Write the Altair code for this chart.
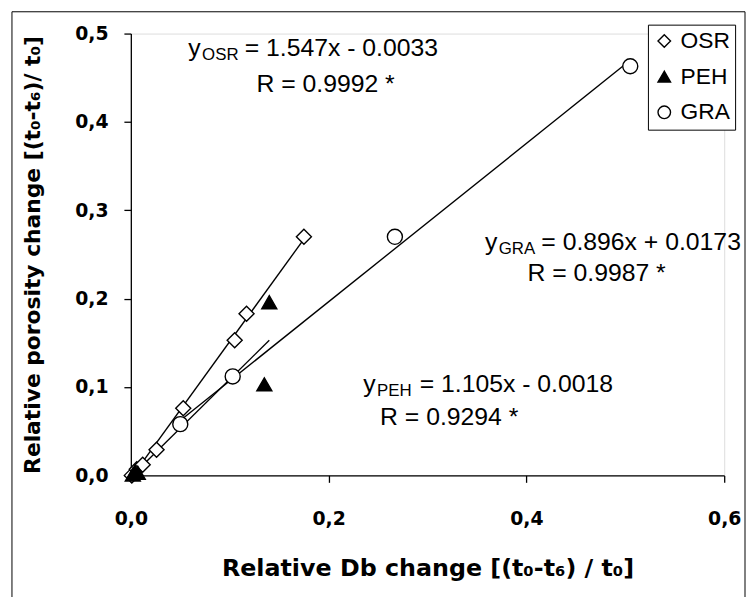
import altair as alt
import pandas as pd

# ---- data ----
series_names = ["OSR", "PEH", "GRA"]

osr_x = [0.001, 0.006, 0.012, 0.026, 0.053, 0.105, 0.117, 0.175]
osr_y = [0.000, 0.007, 0.012, 0.029, 0.076, 0.153, 0.183, 0.270]

peh_x = [0.002, 0.004, 0.007, 0.135, 0.140]
peh_y = [0.001, 0.004, 0.003, 0.103, 0.196]

gra_x = [0.050, 0.103, 0.267, 0.505]
gra_y = [0.058, 0.112, 0.270, 0.463]

# trendline equations y = a*x + b, and R
slopes = [1.547, 1.105, 0.896]
intercepts = [-0.0033, -0.0018, 0.0173]
eq_texts = ["= 1.547x - 0.0033", "= 1.105x - 0.0018", "= 0.896x + 0.0173"]
r_texts = ["R = 0.9992 *", "R = 0.9294 *", "R = 0.9987 *"]

# annotation anchor positions (data units)
eq_pos_x = [0.058, 0.235, 0.358]
eq_pos_y = [0.484, 0.103, 0.264]
r_pos_x = [0.127, 0.252, 0.401]
r_pos_y = [0.443, 0.066, 0.229]

x_ticks = [0.0, 0.2, 0.4, 0.6]
y_ticks = [0.0, 0.1, 0.2, 0.3, 0.4, 0.5]

# ---- tables ----
xs_all = [osr_x, peh_x, gra_x]
ys_all = [osr_y, peh_y, gra_y]
pts = pd.DataFrame(
    [{"series": s, "x": x, "y": y}
     for s, xl, yl in zip(series_names, xs_all, ys_all)
     for x, y in zip(xl, yl)]
)
line_rows = []
for s, xl, a, b in zip(series_names, xs_all, slopes, intercepts):
    for x in (min(xl), max(xl)):
        line_rows.append({"series": s, "x": x, "y": a * x + b})
lines = pd.DataFrame(line_rows)

ann = pd.DataFrame({
    "x": eq_pos_x, "y": eq_pos_y, "sub": series_names, "rest": eq_texts,
})
ann_r = pd.DataFrame({"x": r_pos_x, "y": r_pos_y, "text": r_texts})

FONT = "Liberation Sans"
BFONT = "DejaVu Sans"
xs = alt.Scale(domain=[0, 0.6], nice=False, zero=False)
ys = alt.Scale(domain=[0, 0.5], nice=False, zero=False)
label_expr = "replace(format(datum.value, '.1f'), '.', ',')"

x_axis = alt.Axis(
    values=x_ticks, labelExpr=label_expr, grid=False, labelFlush=False,
    title="Relative Db change [(t\u2080-t\u2086) / t\u2080]",
    titleFont=BFONT, titleFontSize=24, titleFontWeight="bold", titleColor="black",
    titlePadding=28,
    labelFont=BFONT, labelFontSize=19, labelFontWeight="bold", labelColor="black",
    labelPadding=28, tickSize=7, tickColor="black", domainColor="black",
    domainWidth=1.3, tickWidth=1.3,
)
y_axis = alt.Axis(
    values=y_ticks, labelExpr=label_expr, grid=False,
    title="Relative porosity change [(t\u2080-t\u2086)/ t\u2080]",
    titleFont=BFONT, titleFontSize=22, titleFontWeight="bold", titleColor="black",
    titlePadding=31,
    labelFont=BFONT, labelFontSize=19, labelFontWeight="bold", labelColor="black",
    labelPadding=16, tickSize=7, tickColor="black", domainColor="black",
    domainWidth=1.3, tickWidth=1.3,
)

frame = alt.Chart(pd.DataFrame({"a": [0]})).mark_rect(
    fillOpacity=0, stroke="black", strokeWidth=1
).encode(x=alt.value(-120), x2=alt.value(620), y=alt.value(-22), y2=alt.value(580))

line_layer = alt.Chart(lines).mark_line(color="black", strokeWidth=1.4).encode(
    x=alt.X("x:Q", scale=xs, axis=x_axis),
    y=alt.Y("y:Q", scale=ys, axis=y_axis),
    detail="series:N",
)

legend_cfg = dict(
    title=None, orient="none", legendX=522, legendY=-9,
    strokeColor="black", fillColor="white", padding=5, cornerRadius=0,
    labelFont=FONT, labelFontSize=23, labelColor="black",
    symbolSize=160, symbolStrokeWidth=1.4,
    symbolOpacity=1, rowPadding=12, labelOffset=5,
)

point_layer = alt.Chart(pts).mark_point(
    size=230, strokeWidth=1.4, opacity=1, filled=True
).encode(
    x=alt.X("x:Q", scale=xs),
    y=alt.Y("y:Q", scale=ys),
    shape=alt.Shape("series:N",
                    scale=alt.Scale(domain=series_names,
                                    range=["diamond", "triangle-up", "circle"]),
                    legend=alt.Legend(**legend_cfg)),
    fill=alt.Fill("series:N",
                  scale=alt.Scale(domain=series_names,
                                  range=["white", "black", "white"]),
                  legend=alt.Legend(**legend_cfg)),
    stroke=alt.Stroke("series:N",
                      scale=alt.Scale(domain=series_names,
                                      range=["black", "black", "black"]),
                      legend=alt.Legend(**legend_cfg)),
)

txt_y = alt.Chart(ann).mark_text(
    align="left", baseline="middle", font=FONT, fontSize=25, color="black"
).encode(x=alt.X("x:Q", scale=xs), y=alt.Y("y:Q", scale=ys), text=alt.value("y"))

txt_sub = alt.Chart(ann).mark_text(
    align="left", baseline="middle", font=FONT, fontSize=17, color="black", dx=14, dy=7
).encode(x=alt.X("x:Q", scale=xs), y=alt.Y("y:Q", scale=ys), text="sub:N")

txt_rest = alt.Chart(ann).mark_text(
    align="left", baseline="middle", font=FONT, fontSize=25, color="black", dx=57
).encode(x=alt.X("x:Q", scale=xs), y=alt.Y("y:Q", scale=ys), text="rest:N")

txt_r = alt.Chart(ann_r).mark_text(
    align="left", baseline="middle", font=FONT, fontSize=25, color="black"
).encode(x=alt.X("x:Q", scale=xs), y=alt.Y("y:Q", scale=ys), text="text:N")

chart = alt.layer(
    frame, line_layer, point_layer, txt_y, txt_sub, txt_rest, txt_r
).properties(
    width=599, height=446,
    padding={"left": 124, "top": 23, "right": 22, "bottom": 125},
    autosize=alt.AutoSizeParams(type="none"),
).configure_view(stroke=None).configure(background="white")

chart.save("out.html", embed_options={"renderer": "svg", "actions": False})
